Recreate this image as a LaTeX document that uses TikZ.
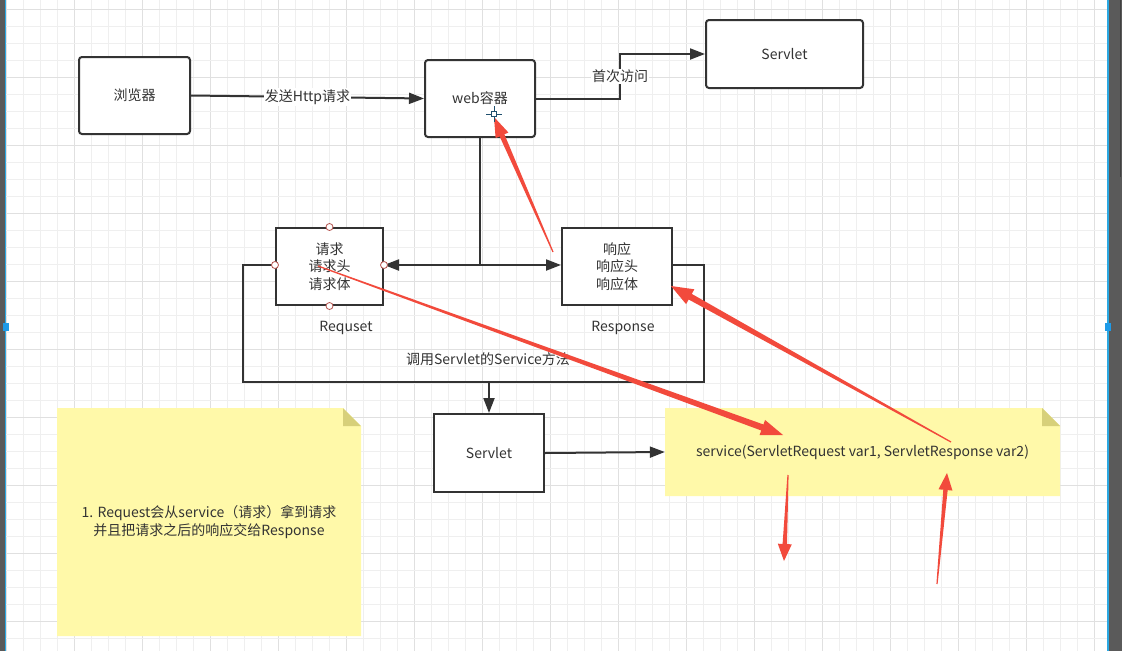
\documentclass[tikz,border=0pt]{standalone}
\usepackage{fontspec}
\setmainfont{Noto Sans CJK SC}
\usetikzlibrary{arrows.meta,calc}

\definecolor{ink}{HTML}{333333}
\definecolor{gridminor}{HTML}{EFEFEF}
\definecolor{gridmajor}{HTML}{E0E0E0}
\definecolor{notefill}{HTML}{FFF9A9}
\definecolor{notefold}{HTML}{D7D07A}
\definecolor{markred}{HTML}{F24A3C}
\definecolor{handleblue}{HTML}{1E9BE8}
\definecolor{sideline}{HTML}{2BA8E2}
\definecolor{framegray}{HTML}{5A5A5A}
\definecolor{portred}{HTML}{B5534E}
\definecolor{cursorcol}{HTML}{1F4F6E}

% tapered hand-drawn annotation arrow: tail, tip, shaft half width at head, head length, head half width
\newcommand{\markarrow}[5]{%
  \path ($(#2)!#4!(#1)$) coordinate (mkb);
  \fill[markred] ($(#1)!0.6pt!90:(#2)$) -- ($(mkb)!#3!90:(#2)$) -- ($(mkb)!#5!90:(#2)$)
     -- (#2) -- ($(mkb)!#5!-90:(#2)$) -- ($(mkb)!#3!-90:(#2)$) -- ($(#1)!0.6pt!-90:(#2)$) -- cycle;
}

\begin{document}
\begin{tikzpicture}[x=1pt,y=-1pt,
  font=\fontsize{14}{17.5}\selectfont, text=ink,
  box/.style={draw=ink, line width=2pt, fill=white, inner sep=0pt, align=center},
  rbox/.style={box, rounded corners=3pt},
  conn/.style={draw=ink, line width=2pt},
  arr/.style={conn, -{Triangle[length=15pt,width=11pt]}},
  lbl/.style={fill=white, inner sep=1pt},
  port/.style={circle, draw=portred, fill=white, line width=0.8pt, minimum size=7pt, inner sep=0pt},
  notebox/.style={inner sep=0pt, align=center, path picture={
    \fill[notefill] (path picture bounding box.south west) -- (path picture bounding box.north west)
      -- ([xshift=-18pt]path picture bounding box.north east) -- ([yshift=-18pt]path picture bounding box.north east)
      -- (path picture bounding box.south east) -- cycle;
    \fill[notefold] ([xshift=-18pt]path picture bounding box.north east)
      -- ([xshift=-18pt,yshift=-18pt]path picture bounding box.north east)
      -- ([yshift=-18pt]path picture bounding box.north east) -- cycle;
  }},
]
\useasboundingbox (0,0) rectangle (1122,651);
\fill[white] (0,0) rectangle (1122,651);

% canvas grid
\foreach \k in {0,...,64} {
  \pgfmathtruncatemacro{\m}{mod(\k,4)}
  \ifnum\m=0 \def\gc{gridmajor}\else\def\gc{gridminor}\fi
  \draw[\gc, line width=1pt] (6+17*\k,0) -- (6+17*\k,651);
}
\foreach \k in {0,...,37} {
  \pgfmathtruncatemacro{\m}{mod(\k,4)}
  \ifnum\m=0 \def\gc{gridmajor}\else\def\gc{gridminor}\fi
  \draw[\gc, line width=1pt] (6,9+17*\k) -- (1108,9+17*\k);
}

% page frame
\fill[framegray] (0,0) rectangle (5,651);
\fill[framegray] (1108.5,0) rectangle (1122,651);
\draw[black!75, line width=1pt] (1120,0) -- (1120,177);
\draw[sideline, line width=1.4pt] (5.5,0) -- (5.5,651);
\draw[sideline, line width=1.4pt] (1108,0) -- (1108,651);
\fill[handleblue] (3,323) rectangle (9,331);
\fill[handleblue] (1105,323) rectangle (1111,331);

% boxes
\node[rbox, minimum width=111pt, minimum height=77pt] (browser) at (134.5,95.5) {浏览器};
\node[rbox, minimum width=110pt, minimum height=77pt] (web) at (480,98.5) {web容器};
\node[rbox, minimum width=157pt, minimum height=68pt] (servA) at (784.5,54) {Servlet};
\node[box, minimum width=107pt, minimum height=77pt] (req) at (329.5,266.5) {请求\\请求头\\请求体};
\node[box, minimum width=110pt, minimum height=77pt] (resp) at (617,266.5) {响应\\响应头\\响应体};
\node[box, minimum width=110pt, minimum height=78pt] (servB) at (489,453) {Servlet};

\node (reqlbl) at (346,328) {Requset};
\node (resplbl) at (623,328) {Response};

% notes
\node[notebox, minimum width=304pt, minimum height=228pt] (note1) at (209,522)
  {1. Request会从service（请求）拿到请求\\并且把请求之后的响应交给Response};
\node[notebox, minimum width=395pt, minimum height=88pt] (note2) at (862.5,452)
  {service(ServletRequest var1, ServletResponse var2)};

% connectors
\draw[arr] (browser.east) -- node[lbl] (sendlbl) {发送Http请求} (web.west);
\coordinate (bend) at (620,99);
\draw[arr] (web.east |- bend) -- (bend) |- node[lbl, pos=0.25] (firstlbl) {首次访问} (servA.west);

\coordinate (jn) at (480,265);
\draw[conn] (web.south) -- (jn);
\draw[arr] (jn) -- (req.east |- jn);
\draw[arr] (jn) -- (resp.west |- jn);

\coordinate (loopA) at (243,265);
\coordinate (loopB) at (243,382);
\coordinate (loopC) at (704,382);
\coordinate (loopD) at (704,265);
\draw[conn] (req.west |- loopA) -- (loopA) -- (loopB) -- (loopC) -- (loopD) -- (resp.east |- loopD);
\node (looplbl) at (488,359) {调用Servlet的Service方法};

\coordinate (drop) at (489,382);
\draw[arr] (drop) -- (servB.north);
\draw[arr] (servB.east) -- (note2.west);

% connection ports of the request box
\node[port] at (req.north) {};
\node[port] at (req.south) {};
\node[port] at (req.west |- jn) {};
\node[port] at (req.east |- jn) {};

% red annotation arrows
\coordinate (t1) at (553,252); \coordinate (h1) at (494,117);
\coordinate (t2) at (318,266); \coordinate (h2) at (783,435);
\coordinate (t3) at (951,442); \coordinate (h3) at (671,286);
\coordinate (t4) at (788,475); \coordinate (h4) at (784,561);
\coordinate (t5) at (937,584); \coordinate (h5) at (947,473);
\markarrow{t1}{h1}{2.6pt}{20pt}{7pt}
\markarrow{t2}{h2}{3.2pt}{22pt}{8pt}
\markarrow{t3}{h3}{3.2pt}{22pt}{8.5pt}
\markarrow{t4}{h4}{2.2pt}{17pt}{7pt}
\markarrow{t5}{h5}{2.2pt}{17pt}{7pt}

% mouse cursor
\draw[cursorcol, line width=1pt] (486,114) -- (502,114) (494,106) -- (494,122);
\draw[cursorcol, line width=0.9pt, fill=white] (491.5,111.5) rectangle (496.5,116.5);
\end{tikzpicture}
\end{document}
